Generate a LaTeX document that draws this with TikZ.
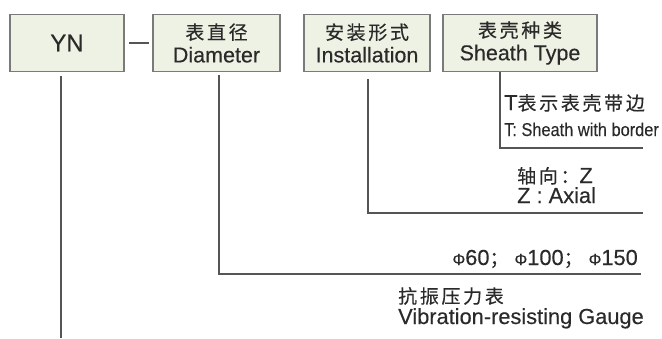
\documentclass[tikz,border=0pt]{standalone}
\usepackage{fontspec}
\setmainfont[FakeBold=0.3]{Liberation Sans}
\newfontfamily\cjk[LetterSpace=14,FakeBold=0.3]{Noto Sans CJK SC}
\newfontfamily\narrowsans[FakeStretch=0.88,FakeBold=0.3]{Liberation Sans}
\newcommand\zh[1]{{\cjk\fontsize{19}{22}\selectfont #1}}
\newcommand\diam{{\fontsize{16}{16}\selectfont Φ}}
\definecolor{boxfill}{HTML}{EEF2E4}
\definecolor{boxline}{HTML}{7A7A7A}
\definecolor{wirecol}{HTML}{555555}
\definecolor{ink}{HTML}{2A2A2A}

\begin{document}
\begin{tikzpicture}[x=1pt,y=-1pt,
		codebox/.style={draw=boxline,line width=1.3pt,fill=boxfill,inner sep=0pt,minimum height=57pt,align=center,text=ink,font=\fontsize{21.5}{23}\selectfont},
		wire/.style={draw=wirecol,line width=1.1pt},
		note/.style={inner sep=0pt,text=ink,font=\fontsize{21.8}{24}\selectfont}]
		\useasboundingbox (0,0) rectangle (662,338);
		
		\node[codebox,minimum width=114pt] (yn) at (67,43) {\fontsize{24}{24}\selectfont YN};
		\node[codebox,minimum width=127pt] (dia) at (216.5,43) {\zh{表直径}\\Diameter};
		\node[codebox,minimum width=126pt] (inst) at (367,43) {\zh{安装形式}\\Installation};
		\node[codebox,minimum width=154pt] (sheath) at (520,43) {\zh{表壳种类}\\Sheath Type};
		\draw[wire] ([xshift=4pt]yn.east) -- ([xshift=-3pt]dia.west);
		
		\coordinate (ynend) at (61,338);
		\draw[wire] ([yshift=-4pt]yn.south -| ynend) -- (ynend);
		\coordinate (diac) at (219,274);
		\coordinate (diar) at (641,274);
		\draw[wire] ([yshift=-3pt]dia.south -| diac) -- (diac) -- (diar);
		\coordinate (instc) at (368,213);
		\coordinate (instr) at (643,213);
		\draw[wire] ([yshift=-7pt]inst.south -| instc) -- (instc) -- (instr);
		\coordinate (sheathc) at (500,148);
		\coordinate (sheathr) at (643,148);
		\draw[wire] (sheath.south -| sheathc) -- (sheathc) -- (sheathr);
		
		\node[note,anchor=west] (bordercn) at (504,103) {T\zh{表示表壳带边}};
		\node[note,anchor=base west,font=\fontsize{18.6}{20}\narrowsans] (borderen) at (504,136) {T: Sheath with border};
		\node[note,anchor=base west] (axialcn) at (517,183) {\zh{轴向：}Z};
		\node[note,anchor=base west] (axialen) at (517,203) {Z : Axial};
		\node[note,anchor=base east] (sizes) at (638,265) {\diam60\zh{；}\hspace{6pt}\diam100\zh{；}\hspace{6pt}\diam150};
		\node[note,anchor=west] (gaugecn) at (398,296) {\zh{抗振压力表}};
		\node[note,anchor=base west] (gaugeen) at (398,324) {Vibration-resisting Gauge};
		
\end{tikzpicture}
\end{document}
